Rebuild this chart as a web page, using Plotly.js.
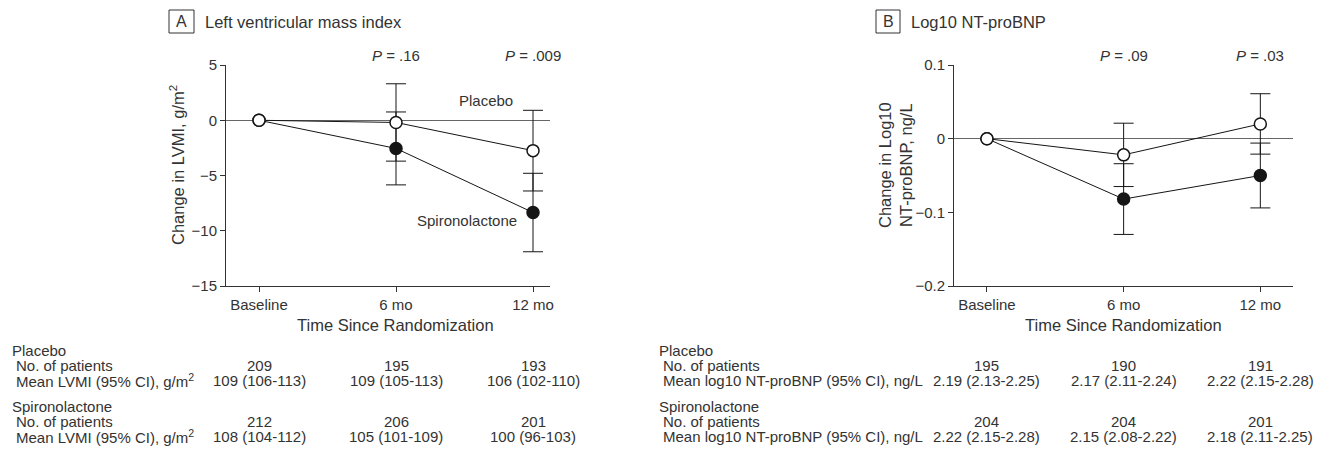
<!DOCTYPE html>
<html><head><meta charset="utf-8">
<script src="https://cdn.plot.ly/plotly-3.0.1.min.js"></script>
<style>html,body{margin:0;padding:0;background:#fff;} #chart{width:1325px;height:451px;}</style>
</head><body><div id="chart"></div>
<script>
// ---- data ----
const categories = ['Baseline', '6 mo', '12 mo'];

const lvmiPlacebo = [0, -0.2, -2.75];
const lvmiPlaceboCI = [NaN, 3.5, 3.65];
const lvmiSpiro = [0, -2.55, -8.35];
const lvmiSpiroCI = [NaN, 3.3, 3.55];
const lvmiP = ['', '.16', '.009'];

const bnpPlacebo = [0, -0.022, 0.02];
const bnpPlaceboCI = [NaN, 0.043, 0.041];
const bnpSpiro = [0, -0.082, -0.05];
const bnpSpiroCI = [NaN, 0.048, 0.044];
const bnpP = ['', '.09', '.03'];

const lvmiPlaceboN = ['209', '195', '193'];
const lvmiPlaceboMean = ['109 (106-113)', '109 (105-113)', '106 (102-110)'];
const lvmiSpiroN = ['212', '206', '201'];
const lvmiSpiroMean = ['108 (104-112)', '105 (101-109)', '100 (96-103)'];

const bnpPlaceboN = ['195', '190', '191'];
const bnpPlaceboMean = ['2.19 (2.13-2.25)', '2.17 (2.11-2.24)', '2.22 (2.15-2.28)'];
const bnpSpiroN = ['204', '204', '201'];
const bnpSpiroMean = ['2.22 (2.15-2.28)', '2.15 (2.08-2.22)', '2.18 (2.11-2.25)'];

// ---- layout helpers ----
const W = 1325, H = 451;
const px = v => v / W;
const py = v => 1 - v / H;
const FONT = 'Liberation Sans, Arial, Helvetica, sans-serif';
const TXT = '#333333';
const INK = '#151515';

function seriesTrace(xa, ya, y, err, filled) {
  return {
    type: 'scatter', mode: 'lines+markers', x: categories, y: y,
    xaxis: xa, yaxis: ya, cliponaxis: false, hoverinfo: 'skip',
    line: {color: INK, width: 1},
    marker: {size: 12, color: filled ? INK : '#ffffff', line: {color: INK, width: 1.5}},
    error_y: {type: 'data', array: err, visible: true, color: INK, thickness: 1, width: 10}
  };
}

const data = [
  seriesTrace('x', 'y', lvmiSpiro, lvmiSpiroCI, true),
  seriesTrace('x', 'y', lvmiPlacebo, lvmiPlaceboCI, false),
  seriesTrace('x2', 'y2', bnpSpiro, bnpSpiroCI, true),
  seriesTrace('x2', 'y2', bnpPlacebo, bnpPlaceboCI, false)
];

function xAxis(domain, range, anchor) {
  return {
    domain: domain, range: range, type: 'category', anchor: anchor,
    showline: true, linecolor: '#333', linewidth: 1,
    ticks: 'outside', ticklen: 5, tickcolor: '#333', tickwidth: 1,
    showgrid: false, zeroline: false, fixedrange: true,
    tickfont: {size: 15, color: TXT}
  };
}
function yAxis(range, dtick, anchor) {
  return {
    domain: [py(286), py(65)], range: range, dtick: dtick, tick0: 0, anchor: anchor,
    showline: true, linecolor: '#333', linewidth: 1,
    ticks: 'outside', ticklen: 5, tickcolor: '#333', tickwidth: 1,
    showgrid: false, zeroline: true, zerolinecolor: '#666', zerolinewidth: 1,
    fixedrange: true, tickfont: {size: 15, color: TXT}
  };
}

const annotations = [];
function note(text, x, y, opts) {
  annotations.push(Object.assign({
    text: text, x: x, y: y, xref: 'paper', yref: 'paper',
    showarrow: false, xanchor: 'center', yanchor: 'middle',
    font: {size: 15, color: TXT, family: FONT}
  }, opts || {}));
}

// panel titles
note('A', px(181.5), py(21.5), {font: {size: 16, color: TXT, family: FONT}});
note('Left ventricular mass index', px(203), py(22), {xanchor: 'left', font: {size: 16.5, color: TXT, family: FONT}});
note('B', px(888), py(21.5), {font: {size: 16, color: TXT, family: FONT}});
note('Log10 NT-proBNP', px(909), py(22), {xanchor: 'left', font: {size: 16.5, color: TXT, family: FONT}});

// axis titles
note('Change in LVMI, g/m<sup>2</sup>', px(177), py(165), {textangle: -90, font: {size: 16.5, color: TXT, family: FONT}});
note('Change in Log10<br>NT-proBNP, ng/L', px(895), py(165), {textangle: -90, font: {size: 16.5, color: TXT, family: FONT}});
note('Time Since Randomization', px(395.5), py(325), {font: {size: 16.5, color: TXT, family: FONT}});
note('Time Since Randomization', px(1123), py(325), {font: {size: 16.5, color: TXT, family: FONT}});

// P values
for (let i = 1; i < categories.length; i++) {
  note('<i>P</i> = ' + lvmiP[i], i, py(55), {xref: 'x'});
  note('<i>P</i> = ' + bnpP[i], i, py(55), {xref: 'x2'});
}

// series labels (panel A)
note('Placebo', px(485.5), py(101));
note('Spironolactone', px(467), py(220));

// tables
const rows = [350, 365.5, 380, 406, 421.5, 436];
function table(xref, left, labelMean, pN, pMean, sN, sMean) {
  note('Placebo', px(left), py(rows[0]), {xanchor: 'left'});
  note('No. of patients', px(left + 4), py(rows[1]), {xanchor: 'left'});
  note(labelMean, px(left + 4), py(rows[2]), {xanchor: 'left'});
  note('Spironolactone', px(left), py(rows[3]), {xanchor: 'left'});
  note('No. of patients', px(left + 4), py(rows[4]), {xanchor: 'left'});
  note(labelMean, px(left + 4), py(rows[5]), {xanchor: 'left'});
  for (let i = 0; i < categories.length; i++) {
    note(pN[i], i, py(rows[1]), {xref: xref});
    note(pMean[i], i, py(rows[2]), {xref: xref});
    note(sN[i], i, py(rows[4]), {xref: xref});
    note(sMean[i], i, py(rows[5]), {xref: xref});
  }
}
table('x', 10, 'Mean LVMI (95% CI), g/m<sup>2</sup>', lvmiPlaceboN, lvmiPlaceboMean, lvmiSpiroN, lvmiSpiroMean);
table('x2', 657, 'Mean log10 NT-proBNP (95% CI), ng/L', bnpPlaceboN, bnpPlaceboMean, bnpSpiroN, bnpSpiroMean);

const layout = {
  width: W, height: H, margin: {l: 0, r: 0, t: 0, b: 0},
  paper_bgcolor: '#ffffff', plot_bgcolor: '#ffffff', showlegend: false,
  font: {family: FONT, size: 15, color: TXT},
  xaxis: xAxis([px(226), px(550)], [-0.241, 2.124], 'y'),
  yaxis: yAxis([-15, 5], 5, 'x'),
  xaxis2: xAxis([px(954), px(1293)], [-0.241, 2.239], 'y2'),
  yaxis2: yAxis([-0.2, 0.1], 0.1, 'x2'),
  shapes: [
    {type: 'rect', xref: 'paper', yref: 'paper', x0: px(169), x1: px(194), y0: py(33), y1: py(10), line: {color: '#333', width: 1}},
    {type: 'rect', xref: 'paper', yref: 'paper', x0: px(876), x1: px(900), y0: py(33), y1: py(10), line: {color: '#333', width: 1}}
  ],
  annotations: annotations
};

Plotly.newPlot('chart', data, layout, {displayModeBar: false, staticPlot: true});
</script>
</body></html>
